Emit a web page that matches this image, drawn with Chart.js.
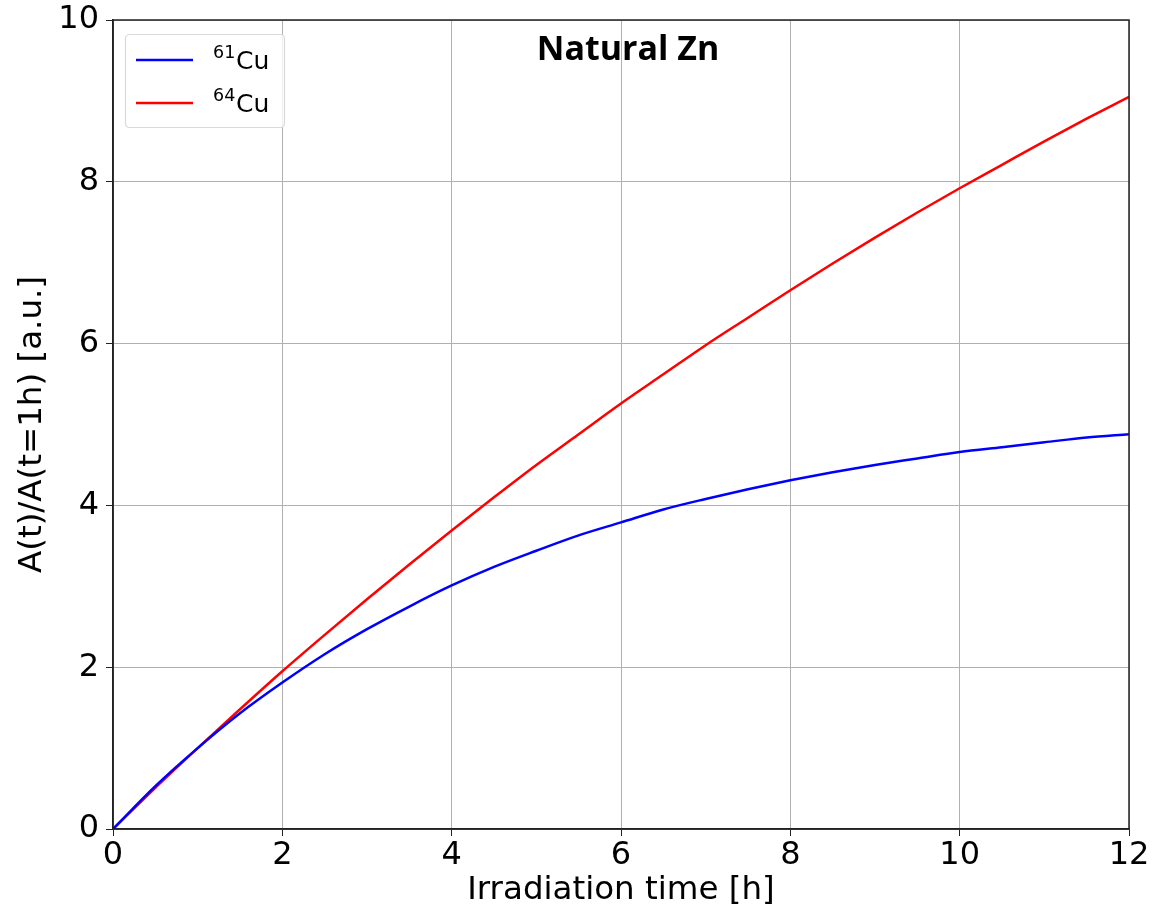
<!DOCTYPE html>
<html>
<head>
<meta charset="utf-8">
<script src="https://cdn.jsdelivr.net/npm/chart.js@4/dist/chart.umd.min.js"></script>
<style>
  html, body { margin: 0; padding: 0; background: #fff; }
  #wrap { width: 1152px; height: 912px; }
</style>
</head>
<body>
<div id="wrap"><canvas id="myChart" width="1152" height="912"></canvas></div>
<script>
// irradiation time [h]
const times = [0, 0.5, 1, 1.5, 2, 2.5, 3, 3.5, 4, 4.5, 5, 5.5, 6, 6.5, 7, 7.5, 8, 8.5, 9, 9.5, 10, 10.5, 11, 11.5, 12];
// A(t)/A(t=1h)
const cu61 = [0, 0.53, 1.0, 1.43, 1.81, 2.16, 2.47, 2.75, 3.01, 3.24, 3.44, 3.63, 3.79, 3.95, 4.08, 4.20, 4.31, 4.41, 4.50, 4.58, 4.66, 4.72, 4.78, 4.84, 4.88];
const cu64 = [0, 0.51, 1.0, 1.48, 1.95, 2.40, 2.84, 3.27, 3.69, 4.10, 4.50, 4.88, 5.26, 5.62, 5.98, 6.32, 6.66, 6.99, 7.31, 7.62, 7.92, 8.21, 8.50, 8.78, 9.05];
const seriesNames = ['61', '64'];
const seriesColors = ['#0000ff', '#ff0000'];
const xTicks = [0, 2, 4, 6, 8, 10, 12];
const yTicks = [0, 2, 4, 6, 8, 10];

const FONT = '"DejaVu Sans"';

const toPoints = (ys) => times.map((t, i) => ({x: t, y: ys[i]}));

// frame, title and legend drawn on top of the chart area
const decorations = {
  id: 'decorations',
  afterDatasetsDraw(chart) {
    const {ctx, chartArea: a} = chart;
    ctx.save();
    ctx.strokeStyle = '#222';
    ctx.lineWidth = 1.5;
    ctx.strokeRect(a.left, a.top, a.right - a.left, a.bottom - a.top);

    // title inside plot
    ctx.fillStyle = '#000';
    ctx.font = "bold 34px 'Open Sans', 'Liberation Sans', sans-serif";
    ctx.textAlign = 'center';
    ctx.textBaseline = 'middle';
    ctx.fillText('Natural Zn', 628, 50);

    // legend box
    const bx = 125.5, by = 34.5, bw = 159, bh = 93;
    ctx.fillStyle = 'rgba(255,255,255,0.8)';
    ctx.strokeStyle = '#d9d9d9';
    ctx.lineWidth = 1.2;
    ctx.beginPath();
    ctx.roundRect(bx, by, bw, bh, 4);
    ctx.fill();
    ctx.stroke();

    seriesNames.forEach((name, i) => {
      const ly = 60 + i * 43;
      ctx.strokeStyle = seriesColors[i];
      ctx.lineWidth = 2.5;
      ctx.beginPath();
      ctx.moveTo(136, ly);
      ctx.lineTo(193, ly);
      ctx.stroke();

      ctx.fillStyle = '#000';
      ctx.textAlign = 'left';
      ctx.textBaseline = 'alphabetic';
      ctx.font = '17.5px ' + FONT;
      ctx.fillText(name, 213, ly - 2);
      ctx.font = '25px ' + FONT;
      ctx.fillText('Cu', 236, ly + 9);
    });
    ctx.restore();
  }
};

new Chart('myChart', {
  type: 'line',
  data: {
    datasets: [{
      label: '61Cu',
      data: toPoints(cu61),
      borderColor: seriesColors[0],
      borderWidth: 2.5,
      pointRadius: 0,
      cubicInterpolationMode: 'monotone'
    }, {
      label: '64Cu',
      data: toPoints(cu64),
      borderColor: seriesColors[1],
      borderWidth: 2.5,
      pointRadius: 0,
      cubicInterpolationMode: 'monotone'
    }]
  },
  options: {
    responsive: false,
    animation: false,
    layout: { padding: { left: 0, right: 23, top: 20, bottom: 0 } },
    plugins: {
      legend: { display: false },
      tooltip: { enabled: false }
    },
    scales: {
      x: {
        type: 'linear',
        min: 0,
        max: 12,
        afterFit: (s) => { s.height = 83; s.paddingLeft = 0; s.paddingRight = 0; },
        afterBuildTicks: (s) => { s.ticks = xTicks.map(v => ({value: v})); },
        grid: { color: '#b0b0b0', lineWidth: 1, tickColor: '#222', tickLength: 7 },
        border: { color: '#222', width: 1.5 },
        ticks: { color: '#000', font: { family: FONT, size: 32 }, padding: 0, maxRotation: 0 },
        title: { display: true, text: 'Irradiation time [h]', color: '#000', font: { family: FONT, size: 32.5 }, padding: { top: 0, bottom: 2 } }
      },
      y: {
        min: 0,
        max: 10,
        afterFit: (s) => { s.width = 113; s.paddingTop = 0; s.paddingBottom = 0; },
        afterBuildTicks: (s) => { s.ticks = yTicks.map(v => ({value: v})); },
        grid: { color: '#b0b0b0', lineWidth: 1, tickColor: '#222', tickLength: 7 },
        border: { color: '#222', width: 1.5 },
        ticks: { color: '#000', font: { family: FONT, size: 32 }, padding: 7 },
        title: { display: true, text: 'A(t)/A(t=1h) [a.u.]', color: '#000', font: { family: FONT, size: 32.5 }, padding: { top: 13, bottom: 0 } }
      }
    }
  },
  plugins: [decorations]
});
</script>
</body>
</html>
